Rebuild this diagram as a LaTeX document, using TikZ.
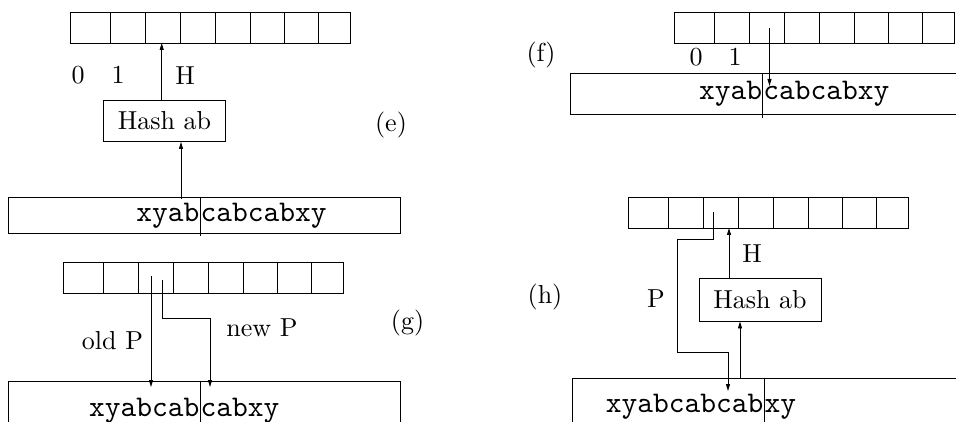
\documentclass[tikz,border=0pt]{standalone}
\usepackage{fontspec}
\usepackage{tikz}
\usetikzlibrary{positioning,arrows.meta,calc}
\tikzset{
  cellc/.style={black,line width=0.9pt},
  box/.style={draw,line width=0.9pt/2.6,inner sep=0pt},
  lbl/.style={font=\fontsize{10}{12}\selectfont,scale=2.6},
  str/.style={font=\ttfamily\fontsize{10}{12}\selectfont,scale=3,inner sep=0pt},
  strbox/.style={draw,line width=0.9pt,inner sep=0pt},
  ptr/.style={line width=0.9pt,-{Triangle[length=7pt,width=4pt]}},
}
% 8 slot table: name, left x, top y (name sits at bottom left)
\newcommand{\slots}[3]{%
  \foreach \a/\b in {0/40,40/75,75/110,110/145,145/180,180/214,214/248,248/280}
    {\draw[cellc] ({#2+\a},#3) rectangle ({#2+\b},{#3+31});}
  \coordinate (#1) at (#2,{#3+31});
}

\begin{document}
\begin{tikzpicture}[x=1pt,y=-1pt]
  \useasboundingbox (0,0) rectangle (956,422);
  \clip (0,0) rectangle (956,422);
  % (e)
  \slots{tabE}{70.7}{12}
  \node[lbl] (zeroE) at (78,75) {0};
  \node[lbl] (oneE) at (118,75) {1};
  \node[lbl] (hE) at (185,76) {H};
  \node[box,lbl,minimum width=122pt/2.6,minimum height=41pt/2.6] (hashE) at (164.5,121) {Hash ab};
  \node[lbl] (tagE) at (391,125) {(e)};
  \node[strbox,minimum width=392pt,minimum height=36pt] (strE) at (204,215) {};
  \node[str,anchor=base east] (sE1) at (200,222) {xyab};
  \node[str,anchor=base west] (sE2) at (200,222) {cabcabxy};
  \draw[cellc] (strE.north -| sE1.east) -- ++(0,39);
  \coordinate (hE0) at (161.7,100);
  \coordinate (kE) at (181,199);
  \draw[ptr] (hashE.north -| hE0) -- (hE0 |- tabE);
  \draw[ptr] (kE) -- (kE |- hashE.south);
  % (f)
  \slots{tabF}{674}{12}
  \node[lbl] (zeroF) at (696,57) {0};
  \node[lbl] (oneF) at (735,57) {1};
  \node[lbl] (tagF) at (541,55) {(f)};
  \node[strbox,minimum width=430pt,minimum height=40.5pt] (strF) at (785,93.75) {};
  \node[str,anchor=base east] (sF1) at (762.7,100) {xyab};
  \node[str,anchor=base west] (sF2) at (762.7,100) {cabcabxy};
  \draw[cellc] (strF.north -| sF1.east) -- ++(0,44.5);
  \coordinate (pF) at (769.5,28);
  \coordinate (qF) at (769.5,86);
  \draw[ptr] (pF) -- (qF);
  % (g)
  \slots{tabG}{63}{262}
  \node[lbl] (oldG) at (112.5,341) {old P};
  \node[lbl] (newG) at (262,328) {new P};
  \node[lbl] (tagG) at (407.5,323) {(g)};
  \node[strbox,minimum width=392pt,minimum height=60pt] (strG) at (204,411) {};
  \node[str,anchor=base east] (sG1) at (200,416) {xyabcab};
  \node[str,anchor=base west] (sG2) at (200,416) {cabxy};
  \draw[cellc] (strG.north -| sG1.east) -- ++(0,60);
  \coordinate (oG) at (151,276);
  \coordinate (oG2) at (151,387);
  \coordinate (nG) at (162,280);
  \coordinate (nG2) at (210,387);
  \draw[ptr] (oG) -- (oG2);
  \draw[ptr] (nG) -- (nG |- 0,318) -| (nG2);
  % (h)
  \slots{tabH}{628}{197}
  \node[lbl] (hH) at (752,254) {H};
  \node[lbl] (pLbl) at (656,299) {P};
  \node[lbl] (tagH) at (545,297) {(h)};
  \node[box,lbl,minimum width=122pt/2.6,minimum height=43pt/2.6] (hashH) at (760,299.5) {Hash ab};
  \node[strbox,minimum width=428pt,minimum height=62pt] (strH) at (786,409) {};
  \node[str,anchor=base east] (sH1) at (764,412) {xyabcabcab};
  \node[str,anchor=base west] (sH2) at (764,412) {xy};
  \draw[cellc] (strH.north -| sH1.east) -- ++(0,62);
  \coordinate (pH) at (713,212);
  \coordinate (pH2) at (728,391);
  \coordinate (hH0) at (729,278);
  \coordinate (kH) at (740,378);
  \draw[ptr] (pH) |- (677,239) |- (728,352) -- (pH2);
  \draw[ptr] (hashH.north -| hH0) -- (hH0 |- tabH);
  \draw[ptr] (kH) -- (kH |- hashH.south);
\end{tikzpicture}
\end{document}
